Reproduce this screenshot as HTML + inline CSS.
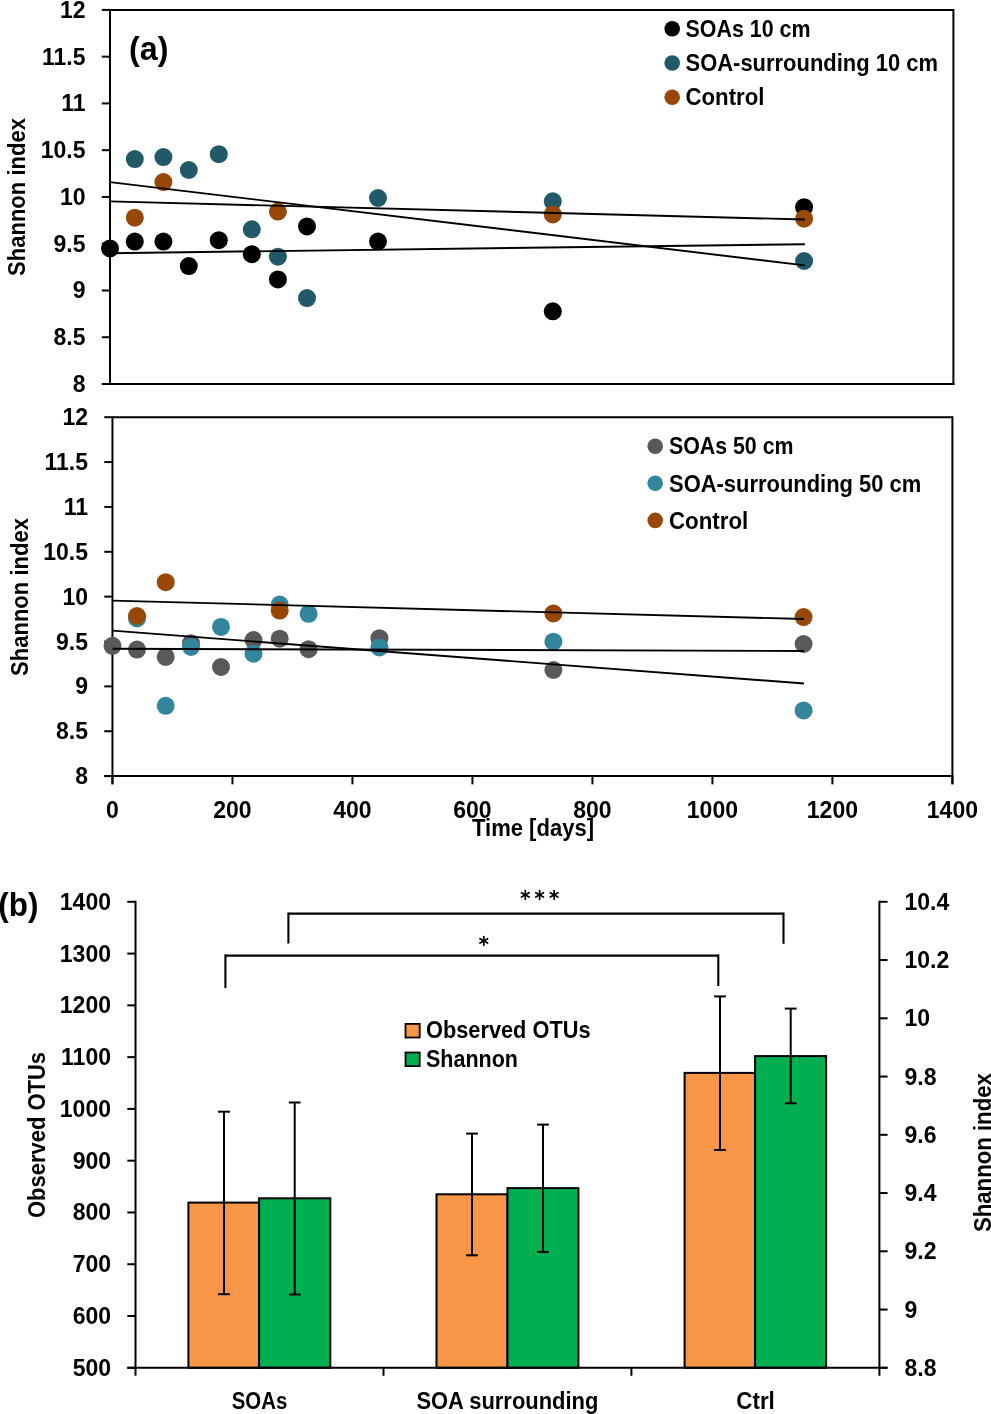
<!DOCTYPE html>
<html><head><meta charset="utf-8"><style>
html,body{margin:0;padding:0;background:#fff;}
svg{display:block;font-family:"Liberation Sans", sans-serif;will-change:transform;}
</style></head><body>
<svg width="991" height="1414" viewBox="0 0 991 1414">
<rect width="991" height="1414" fill="#fff"/>
<line x1="110.0" y1="9.9" x2="953.4" y2="9.9" stroke="#000" stroke-width="2" stroke-linecap="butt"/>
<line x1="953.4" y1="8.9" x2="953.4" y2="385.0" stroke="#000" stroke-width="2" stroke-linecap="butt"/>
<line x1="110.0" y1="8.9" x2="110.0" y2="385.0" stroke="#000" stroke-width="2" stroke-linecap="butt"/>
<line x1="101.8" y1="384.0" x2="954.4" y2="384.0" stroke="#000" stroke-width="2" stroke-linecap="butt"/>
<line x1="101.8" y1="9.9" x2="110.0" y2="9.9" stroke="#000" stroke-width="2" stroke-linecap="butt"/>
<text x="85.5" y="17.9" text-anchor="end" font-size="23" font-weight="bold">12</text>
<line x1="101.8" y1="56.6625" x2="110.0" y2="56.6625" stroke="#000" stroke-width="2" stroke-linecap="butt"/>
<text x="85.5" y="64.6625" text-anchor="end" font-size="23" font-weight="bold">11.5</text>
<line x1="101.8" y1="103.42500000000001" x2="110.0" y2="103.42500000000001" stroke="#000" stroke-width="2" stroke-linecap="butt"/>
<text x="85.5" y="111.42500000000001" text-anchor="end" font-size="23" font-weight="bold">11</text>
<line x1="101.8" y1="150.18750000000003" x2="110.0" y2="150.18750000000003" stroke="#000" stroke-width="2" stroke-linecap="butt"/>
<text x="85.5" y="158.18750000000003" text-anchor="end" font-size="23" font-weight="bold">10.5</text>
<line x1="101.8" y1="196.95000000000002" x2="110.0" y2="196.95000000000002" stroke="#000" stroke-width="2" stroke-linecap="butt"/>
<text x="85.5" y="204.95000000000002" text-anchor="end" font-size="23" font-weight="bold">10</text>
<line x1="101.8" y1="243.7125" x2="110.0" y2="243.7125" stroke="#000" stroke-width="2" stroke-linecap="butt"/>
<text x="85.5" y="251.7125" text-anchor="end" font-size="23" font-weight="bold">9.5</text>
<line x1="101.8" y1="290.475" x2="110.0" y2="290.475" stroke="#000" stroke-width="2" stroke-linecap="butt"/>
<text x="85.5" y="298.475" text-anchor="end" font-size="23" font-weight="bold">9</text>
<line x1="101.8" y1="337.2375" x2="110.0" y2="337.2375" stroke="#000" stroke-width="2" stroke-linecap="butt"/>
<text x="85.5" y="345.2375" text-anchor="end" font-size="23" font-weight="bold">8.5</text>
<line x1="101.8" y1="384.0" x2="110.0" y2="384.0" stroke="#000" stroke-width="2" stroke-linecap="butt"/>
<text x="85.5" y="392.0" text-anchor="end" font-size="23" font-weight="bold">8</text>
<text x="25.3" y="197.0" text-anchor="middle" font-size="23" font-weight="bold" textLength="158" lengthAdjust="spacingAndGlyphs" transform="rotate(-90 25.3 197.0)">Shannon index</text>
<text x="129.0" y="60.4" text-anchor="start" font-size="33.5" font-weight="bold" textLength="39.4" lengthAdjust="spacingAndGlyphs">(a)</text>
<circle cx="110" cy="248.4" r="9.0" fill="#000000"/>
<circle cx="134.8" cy="241.6" r="9.0" fill="#000000"/>
<circle cx="163.4" cy="241.6" r="9.0" fill="#000000"/>
<circle cx="188.8" cy="266.1" r="9.0" fill="#000000"/>
<circle cx="218.8" cy="240.2" r="9.0" fill="#000000"/>
<circle cx="251.8" cy="254.2" r="9.0" fill="#000000"/>
<circle cx="277.9" cy="279.4" r="9.0" fill="#000000"/>
<circle cx="307.0" cy="226.4" r="9.0" fill="#000000"/>
<circle cx="378.0" cy="241.5" r="9.0" fill="#000000"/>
<circle cx="552.8" cy="311.3" r="9.0" fill="#000000"/>
<circle cx="804.1" cy="207.2" r="9.0" fill="#000000"/>
<circle cx="134.8" cy="159.1" r="9.0" fill="#215968"/>
<circle cx="163.4" cy="157.1" r="9.0" fill="#215968"/>
<circle cx="188.8" cy="170.0" r="9.0" fill="#215968"/>
<circle cx="218.8" cy="154.2" r="9.0" fill="#215968"/>
<circle cx="251.8" cy="229.3" r="9.0" fill="#215968"/>
<circle cx="277.9" cy="256.7" r="9.0" fill="#215968"/>
<circle cx="307.0" cy="298.1" r="9.0" fill="#215968"/>
<circle cx="378.0" cy="198.0" r="9.0" fill="#215968"/>
<circle cx="552.8" cy="201.3" r="9.0" fill="#215968"/>
<circle cx="804.1" cy="261.0" r="9.0" fill="#215968"/>
<circle cx="134.8" cy="217.7" r="9.0" fill="#974806"/>
<circle cx="163.4" cy="182.1" r="9.0" fill="#974806"/>
<circle cx="277.9" cy="211.6" r="9.0" fill="#974806"/>
<circle cx="552.8" cy="214.4" r="9.0" fill="#974806"/>
<circle cx="804.1" cy="218.7" r="9.0" fill="#974806"/>
<line x1="110" y1="182.1" x2="804.9" y2="265.4" stroke="#000" stroke-width="1.9" stroke-linecap="butt"/>
<line x1="110" y1="201.4" x2="804.9" y2="219.5" stroke="#000" stroke-width="1.9" stroke-linecap="butt"/>
<line x1="110" y1="253.2" x2="804.9" y2="244.2" stroke="#000" stroke-width="1.9" stroke-linecap="butt"/>
<circle cx="672.2" cy="28.8" r="7.8" fill="#000000"/>
<text x="685.5" y="37.0" text-anchor="start" font-size="23" font-weight="bold" textLength="125" lengthAdjust="spacingAndGlyphs">SOAs 10 cm</text>
<circle cx="672.2" cy="63.0" r="7.8" fill="#215968"/>
<text x="685.5" y="71.2" text-anchor="start" font-size="23" font-weight="bold" textLength="252.5" lengthAdjust="spacingAndGlyphs">SOA-surrounding 10 cm</text>
<circle cx="672.2" cy="97.2" r="7.8" fill="#974806"/>
<text x="685.5" y="105.4" text-anchor="start" font-size="23" font-weight="bold" textLength="79" lengthAdjust="spacingAndGlyphs">Control</text>
<line x1="112.45" y1="417.2" x2="952.4" y2="417.2" stroke="#000" stroke-width="2" stroke-linecap="butt"/>
<line x1="952.4" y1="416.2" x2="952.4" y2="784.3000000000001" stroke="#000" stroke-width="2" stroke-linecap="butt"/>
<line x1="112.45" y1="416.2" x2="112.45" y2="784.3000000000001" stroke="#000" stroke-width="2" stroke-linecap="butt"/>
<line x1="104.25" y1="776.1" x2="953.4" y2="776.1" stroke="#000" stroke-width="2" stroke-linecap="butt"/>
<line x1="104.25" y1="417.2" x2="112.45" y2="417.2" stroke="#000" stroke-width="2" stroke-linecap="butt"/>
<text x="88.0" y="425.2" text-anchor="end" font-size="23" font-weight="bold">12</text>
<line x1="104.25" y1="462.0625" x2="112.45" y2="462.0625" stroke="#000" stroke-width="2" stroke-linecap="butt"/>
<text x="88.0" y="470.0625" text-anchor="end" font-size="23" font-weight="bold">11.5</text>
<line x1="104.25" y1="506.925" x2="112.45" y2="506.925" stroke="#000" stroke-width="2" stroke-linecap="butt"/>
<text x="88.0" y="514.925" text-anchor="end" font-size="23" font-weight="bold">11</text>
<line x1="104.25" y1="551.7875" x2="112.45" y2="551.7875" stroke="#000" stroke-width="2" stroke-linecap="butt"/>
<text x="88.0" y="559.7875" text-anchor="end" font-size="23" font-weight="bold">10.5</text>
<line x1="104.25" y1="596.65" x2="112.45" y2="596.65" stroke="#000" stroke-width="2" stroke-linecap="butt"/>
<text x="88.0" y="604.65" text-anchor="end" font-size="23" font-weight="bold">10</text>
<line x1="104.25" y1="641.5125" x2="112.45" y2="641.5125" stroke="#000" stroke-width="2" stroke-linecap="butt"/>
<text x="88.0" y="649.5125" text-anchor="end" font-size="23" font-weight="bold">9.5</text>
<line x1="104.25" y1="686.375" x2="112.45" y2="686.375" stroke="#000" stroke-width="2" stroke-linecap="butt"/>
<text x="88.0" y="694.375" text-anchor="end" font-size="23" font-weight="bold">9</text>
<line x1="104.25" y1="731.2375" x2="112.45" y2="731.2375" stroke="#000" stroke-width="2" stroke-linecap="butt"/>
<text x="88.0" y="739.2375" text-anchor="end" font-size="23" font-weight="bold">8.5</text>
<line x1="104.25" y1="776.1" x2="112.45" y2="776.1" stroke="#000" stroke-width="2" stroke-linecap="butt"/>
<text x="88.0" y="784.1" text-anchor="end" font-size="23" font-weight="bold">8</text>
<line x1="112.45" y1="776.1" x2="112.45" y2="784.3000000000001" stroke="#000" stroke-width="2" stroke-linecap="butt"/>
<text x="112.45" y="817.5" text-anchor="middle" font-size="23" font-weight="bold">0</text>
<line x1="232.44285714285715" y1="776.1" x2="232.44285714285715" y2="784.3000000000001" stroke="#000" stroke-width="2" stroke-linecap="butt"/>
<text x="232.44285714285715" y="817.5" text-anchor="middle" font-size="23" font-weight="bold">200</text>
<line x1="352.4357142857143" y1="776.1" x2="352.4357142857143" y2="784.3000000000001" stroke="#000" stroke-width="2" stroke-linecap="butt"/>
<text x="352.4357142857143" y="817.5" text-anchor="middle" font-size="23" font-weight="bold">400</text>
<line x1="472.4285714285714" y1="776.1" x2="472.4285714285714" y2="784.3000000000001" stroke="#000" stroke-width="2" stroke-linecap="butt"/>
<text x="472.4285714285714" y="817.5" text-anchor="middle" font-size="23" font-weight="bold">600</text>
<line x1="592.4214285714286" y1="776.1" x2="592.4214285714286" y2="784.3000000000001" stroke="#000" stroke-width="2" stroke-linecap="butt"/>
<text x="592.4214285714286" y="817.5" text-anchor="middle" font-size="23" font-weight="bold">800</text>
<line x1="712.4142857142857" y1="776.1" x2="712.4142857142857" y2="784.3000000000001" stroke="#000" stroke-width="2" stroke-linecap="butt"/>
<text x="712.4142857142857" y="817.5" text-anchor="middle" font-size="23" font-weight="bold">1000</text>
<line x1="832.4071428571428" y1="776.1" x2="832.4071428571428" y2="784.3000000000001" stroke="#000" stroke-width="2" stroke-linecap="butt"/>
<text x="832.4071428571428" y="817.5" text-anchor="middle" font-size="23" font-weight="bold">1200</text>
<line x1="952.4000000000001" y1="776.1" x2="952.4000000000001" y2="784.3000000000001" stroke="#000" stroke-width="2" stroke-linecap="butt"/>
<text x="952.4000000000001" y="817.5" text-anchor="middle" font-size="23" font-weight="bold">1400</text>
<text x="27.9" y="597.0" text-anchor="middle" font-size="23" font-weight="bold" textLength="158" lengthAdjust="spacingAndGlyphs" transform="rotate(-90 27.9 597.0)">Shannon index</text>
<text x="533" y="836.1" text-anchor="middle" font-size="23" font-weight="bold" textLength="122" lengthAdjust="spacingAndGlyphs">Time [days]</text>
<circle cx="112.5" cy="645.8" r="9.0" fill="#595959"/>
<circle cx="137.0" cy="649.6" r="9.0" fill="#595959"/>
<circle cx="165.7" cy="656.9" r="9.0" fill="#595959"/>
<circle cx="191.0" cy="643.2" r="9.0" fill="#595959"/>
<circle cx="221.0" cy="667.0" r="9.0" fill="#595959"/>
<circle cx="253.5" cy="640.0" r="9.0" fill="#595959"/>
<circle cx="279.7" cy="638.7" r="9.0" fill="#595959"/>
<circle cx="308.6" cy="649.2" r="9.0" fill="#595959"/>
<circle cx="379.4" cy="638.2" r="9.0" fill="#595959"/>
<circle cx="553.4" cy="670.0" r="9.0" fill="#595959"/>
<circle cx="803.6" cy="644.0" r="9.0" fill="#595959"/>
<circle cx="137.0" cy="618.5" r="9.0" fill="#31859C"/>
<circle cx="165.7" cy="705.8" r="9.0" fill="#31859C"/>
<circle cx="191.0" cy="647.0" r="9.0" fill="#31859C"/>
<circle cx="221.0" cy="626.9" r="9.0" fill="#31859C"/>
<circle cx="253.5" cy="653.7" r="9.0" fill="#31859C"/>
<circle cx="279.7" cy="604.6" r="9.0" fill="#31859C"/>
<circle cx="308.6" cy="613.8" r="9.0" fill="#31859C"/>
<circle cx="379.4" cy="647.4" r="9.0" fill="#31859C"/>
<circle cx="553.4" cy="641.7" r="9.0" fill="#31859C"/>
<circle cx="803.6" cy="710.4" r="9.0" fill="#31859C"/>
<circle cx="137.0" cy="616.0" r="9.0" fill="#974806"/>
<circle cx="165.7" cy="582.2" r="9.0" fill="#974806"/>
<circle cx="279.7" cy="610.6" r="9.0" fill="#974806"/>
<circle cx="553.4" cy="613.4" r="9.0" fill="#974806"/>
<circle cx="803.6" cy="617.1" r="9.0" fill="#974806"/>
<line x1="112.5" y1="600.6" x2="804" y2="619.0" stroke="#000" stroke-width="1.9" stroke-linecap="butt"/>
<line x1="112.5" y1="630.6" x2="804" y2="683.5" stroke="#000" stroke-width="1.9" stroke-linecap="butt"/>
<line x1="112.5" y1="648.8" x2="804" y2="651.0" stroke="#000" stroke-width="1.9" stroke-linecap="butt"/>
<circle cx="655.2" cy="446.2" r="7.8" fill="#595959"/>
<text x="669.0" y="454.4" text-anchor="start" font-size="23" font-weight="bold" textLength="124.5" lengthAdjust="spacingAndGlyphs">SOAs 50 cm</text>
<circle cx="655.2" cy="483.3" r="7.8" fill="#31859C"/>
<text x="669.0" y="491.5" text-anchor="start" font-size="23" font-weight="bold" textLength="252.3" lengthAdjust="spacingAndGlyphs">SOA-surrounding 50 cm</text>
<circle cx="655.2" cy="520.4" r="7.8" fill="#974806"/>
<text x="669.0" y="528.6" text-anchor="start" font-size="23" font-weight="bold" textLength="79.3" lengthAdjust="spacingAndGlyphs">Control</text>
<text x="-1.8" y="916.0" text-anchor="start" font-size="33.5" font-weight="bold" textLength="40.2" lengthAdjust="spacingAndGlyphs">(b)</text>
<line x1="288.4" y1="913.7" x2="783.5" y2="913.7" stroke="#000" stroke-width="2.2" stroke-linecap="butt"/>
<line x1="288.4" y1="912.6" x2="288.4" y2="943.5" stroke="#000" stroke-width="2.1" stroke-linecap="butt"/>
<line x1="783.5" y1="912.6" x2="783.5" y2="943.8" stroke="#000" stroke-width="2.1" stroke-linecap="butt"/>
<line x1="225.4" y1="955.6" x2="718.3" y2="955.6" stroke="#000" stroke-width="2.2" stroke-linecap="butt"/>
<line x1="225.4" y1="954.5" x2="225.4" y2="988.1" stroke="#000" stroke-width="2.1" stroke-linecap="butt"/>
<line x1="718.3" y1="954.5" x2="718.3" y2="986.0" stroke="#000" stroke-width="2.1" stroke-linecap="butt"/>
<rect x="188.4" y="1202.6" width="70.70000000000002" height="165.20000000000005" fill="#F79646" stroke="#000" stroke-width="2"/>
<rect x="259.1" y="1198.3" width="71.19999999999999" height="169.5" fill="#00B050" stroke="#000" stroke-width="2"/>
<rect x="436.5" y="1194.3" width="71.0" height="173.5" fill="#F79646" stroke="#000" stroke-width="2"/>
<rect x="507.5" y="1188.1" width="70.89999999999998" height="179.70000000000005" fill="#00B050" stroke="#000" stroke-width="2"/>
<rect x="684.6" y="1072.9" width="70.5" height="294.89999999999986" fill="#F79646" stroke="#000" stroke-width="2"/>
<rect x="755.1" y="1056.1" width="71.0" height="311.70000000000005" fill="#00B050" stroke="#000" stroke-width="2"/>
<line x1="224.0" y1="1111.7" x2="224.0" y2="1293.9" stroke="#000" stroke-width="2" stroke-linecap="butt"/>
<line x1="218.1" y1="1111.7" x2="229.9" y2="1111.7" stroke="#000" stroke-width="2" stroke-linecap="butt"/>
<line x1="218.1" y1="1294.2" x2="229.9" y2="1294.2" stroke="#000" stroke-width="2" stroke-linecap="butt"/>
<line x1="294.7" y1="1102.5" x2="294.7" y2="1294.2" stroke="#000" stroke-width="2" stroke-linecap="butt"/>
<line x1="288.8" y1="1102.5" x2="300.59999999999997" y2="1102.5" stroke="#000" stroke-width="2" stroke-linecap="butt"/>
<line x1="288.8" y1="1294.5" x2="300.59999999999997" y2="1294.5" stroke="#000" stroke-width="2" stroke-linecap="butt"/>
<line x1="472.0" y1="1133.6" x2="472.0" y2="1255.0" stroke="#000" stroke-width="2" stroke-linecap="butt"/>
<line x1="466.1" y1="1133.6" x2="477.9" y2="1133.6" stroke="#000" stroke-width="2" stroke-linecap="butt"/>
<line x1="466.1" y1="1255.3" x2="477.9" y2="1255.3" stroke="#000" stroke-width="2" stroke-linecap="butt"/>
<line x1="543.0" y1="1124.6" x2="543.0" y2="1251.6" stroke="#000" stroke-width="2" stroke-linecap="butt"/>
<line x1="537.1" y1="1124.6" x2="548.9" y2="1124.6" stroke="#000" stroke-width="2" stroke-linecap="butt"/>
<line x1="537.1" y1="1251.8999999999999" x2="548.9" y2="1251.8999999999999" stroke="#000" stroke-width="2" stroke-linecap="butt"/>
<line x1="720.0" y1="996.4" x2="720.0" y2="1149.7" stroke="#000" stroke-width="2" stroke-linecap="butt"/>
<line x1="714.1" y1="996.4" x2="725.9" y2="996.4" stroke="#000" stroke-width="2" stroke-linecap="butt"/>
<line x1="714.1" y1="1150.0" x2="725.9" y2="1150.0" stroke="#000" stroke-width="2" stroke-linecap="butt"/>
<line x1="790.7" y1="1008.6" x2="790.7" y2="1103.0" stroke="#000" stroke-width="2" stroke-linecap="butt"/>
<line x1="784.8000000000001" y1="1008.6" x2="796.6" y2="1008.6" stroke="#000" stroke-width="2" stroke-linecap="butt"/>
<line x1="784.8000000000001" y1="1103.3" x2="796.6" y2="1103.3" stroke="#000" stroke-width="2" stroke-linecap="butt"/>
<line x1="135.5" y1="900.8" x2="135.5" y2="1375.8" stroke="#000" stroke-width="2" stroke-linecap="butt"/>
<line x1="879.4" y1="900.8" x2="879.4" y2="1375.8" stroke="#000" stroke-width="2" stroke-linecap="butt"/>
<line x1="127.3" y1="1367.8" x2="887.6" y2="1367.8" stroke="#000" stroke-width="2" stroke-linecap="butt"/>
<line x1="127.3" y1="1367.8" x2="135.5" y2="1367.8" stroke="#000" stroke-width="2" stroke-linecap="butt"/>
<text x="111.0" y="1375.8" text-anchor="end" font-size="23" font-weight="bold">500</text>
<line x1="127.3" y1="1316.0222222222221" x2="135.5" y2="1316.0222222222221" stroke="#000" stroke-width="2" stroke-linecap="butt"/>
<text x="111.0" y="1324.0222222222221" text-anchor="end" font-size="23" font-weight="bold">600</text>
<line x1="127.3" y1="1264.2444444444443" x2="135.5" y2="1264.2444444444443" stroke="#000" stroke-width="2" stroke-linecap="butt"/>
<text x="111.0" y="1272.2444444444443" text-anchor="end" font-size="23" font-weight="bold">700</text>
<line x1="127.3" y1="1212.4666666666667" x2="135.5" y2="1212.4666666666667" stroke="#000" stroke-width="2" stroke-linecap="butt"/>
<text x="111.0" y="1220.4666666666667" text-anchor="end" font-size="23" font-weight="bold">800</text>
<line x1="127.3" y1="1160.6888888888889" x2="135.5" y2="1160.6888888888889" stroke="#000" stroke-width="2" stroke-linecap="butt"/>
<text x="111.0" y="1168.6888888888889" text-anchor="end" font-size="23" font-weight="bold">900</text>
<line x1="127.3" y1="1108.911111111111" x2="135.5" y2="1108.911111111111" stroke="#000" stroke-width="2" stroke-linecap="butt"/>
<text x="111.0" y="1116.911111111111" text-anchor="end" font-size="23" font-weight="bold">1000</text>
<line x1="127.3" y1="1057.1333333333332" x2="135.5" y2="1057.1333333333332" stroke="#000" stroke-width="2" stroke-linecap="butt"/>
<text x="111.0" y="1065.1333333333332" text-anchor="end" font-size="23" font-weight="bold">1100</text>
<line x1="127.3" y1="1005.3555555555555" x2="135.5" y2="1005.3555555555555" stroke="#000" stroke-width="2" stroke-linecap="butt"/>
<text x="111.0" y="1013.3555555555555" text-anchor="end" font-size="23" font-weight="bold">1200</text>
<line x1="127.3" y1="953.5777777777778" x2="135.5" y2="953.5777777777778" stroke="#000" stroke-width="2" stroke-linecap="butt"/>
<text x="111.0" y="961.5777777777778" text-anchor="end" font-size="23" font-weight="bold">1300</text>
<line x1="127.3" y1="901.8" x2="135.5" y2="901.8" stroke="#000" stroke-width="2" stroke-linecap="butt"/>
<text x="111.0" y="909.8" text-anchor="end" font-size="23" font-weight="bold">1400</text>
<line x1="879.4" y1="1367.8" x2="887.6" y2="1367.8" stroke="#000" stroke-width="2" stroke-linecap="butt"/>
<text x="904.5" y="1375.8" text-anchor="start" font-size="23" font-weight="bold">8.8</text>
<line x1="879.4" y1="1309.5500000000002" x2="887.6" y2="1309.5500000000002" stroke="#000" stroke-width="2" stroke-linecap="butt"/>
<text x="904.5" y="1317.5500000000002" text-anchor="start" font-size="23" font-weight="bold">9</text>
<line x1="879.4" y1="1251.3" x2="887.6" y2="1251.3" stroke="#000" stroke-width="2" stroke-linecap="butt"/>
<text x="904.5" y="1259.3" text-anchor="start" font-size="23" font-weight="bold">9.2</text>
<line x1="879.4" y1="1193.0500000000002" x2="887.6" y2="1193.0500000000002" stroke="#000" stroke-width="2" stroke-linecap="butt"/>
<text x="904.5" y="1201.0500000000002" text-anchor="start" font-size="23" font-weight="bold">9.4</text>
<line x1="879.4" y1="1134.7999999999997" x2="887.6" y2="1134.7999999999997" stroke="#000" stroke-width="2" stroke-linecap="butt"/>
<text x="904.5" y="1142.7999999999997" text-anchor="start" font-size="23" font-weight="bold">9.6</text>
<line x1="879.4" y1="1076.55" x2="887.6" y2="1076.55" stroke="#000" stroke-width="2" stroke-linecap="butt"/>
<text x="904.5" y="1084.55" text-anchor="start" font-size="23" font-weight="bold">9.8</text>
<line x1="879.4" y1="1018.3000000000002" x2="887.6" y2="1018.3000000000002" stroke="#000" stroke-width="2" stroke-linecap="butt"/>
<text x="904.5" y="1026.3000000000002" text-anchor="start" font-size="23" font-weight="bold">10</text>
<line x1="879.4" y1="960.0499999999998" x2="887.6" y2="960.0499999999998" stroke="#000" stroke-width="2" stroke-linecap="butt"/>
<text x="904.5" y="968.0499999999998" text-anchor="start" font-size="23" font-weight="bold">10.2</text>
<line x1="879.4" y1="901.8000000000002" x2="887.6" y2="901.8000000000002" stroke="#000" stroke-width="2" stroke-linecap="butt"/>
<text x="904.5" y="909.8000000000002" text-anchor="start" font-size="23" font-weight="bold">10.4</text>
<line x1="383.5" y1="1367.8" x2="383.5" y2="1375.8" stroke="#000" stroke-width="2" stroke-linecap="butt"/>
<line x1="631.4" y1="1367.8" x2="631.4" y2="1375.8" stroke="#000" stroke-width="2" stroke-linecap="butt"/>
<text x="259.5" y="1409.1" text-anchor="middle" font-size="23" font-weight="bold" textLength="55.5" lengthAdjust="spacingAndGlyphs">SOAs</text>
<text x="507.4" y="1409.1" text-anchor="middle" font-size="23" font-weight="bold" textLength="182" lengthAdjust="spacingAndGlyphs">SOA surrounding</text>
<text x="755.6" y="1409.1" text-anchor="middle" font-size="23" font-weight="bold" textLength="38.5" lengthAdjust="spacingAndGlyphs">Ctrl</text>
<text x="44.5" y="1135.0" text-anchor="middle" font-size="23" font-weight="bold" textLength="166" lengthAdjust="spacingAndGlyphs" transform="rotate(-90 44.5 1135.0)">Observed OTUs</text>
<text x="990.7" y="1152.6" text-anchor="middle" font-size="23" font-weight="bold" textLength="159" lengthAdjust="spacingAndGlyphs" transform="rotate(-90 990.7 1152.6)">Shannon index</text>
<rect x="405.5" y="1023.9" width="14.2" height="13.6" fill="#F79646" stroke="#000" stroke-width="1.8"/>
<rect x="405.5" y="1052.5" width="14.2" height="13.6" fill="#00B050" stroke="#000" stroke-width="1.8"/>
<text x="426.0" y="1037.8" text-anchor="start" font-size="23" font-weight="bold" textLength="164.5" lengthAdjust="spacingAndGlyphs">Observed OTUs</text>
<text x="426.0" y="1066.5" text-anchor="start" font-size="23" font-weight="bold" textLength="92" lengthAdjust="spacingAndGlyphs">Shannon</text>
<line x1="525.3" y1="890.5" x2="525.3" y2="899.3" stroke="#000" stroke-width="1.7" stroke-linecap="round"/>
<line x1="521.49" y1="892.7" x2="529.11" y2="897.1" stroke="#000" stroke-width="1.7" stroke-linecap="round"/>
<line x1="529.11" y1="892.7" x2="521.49" y2="897.1" stroke="#000" stroke-width="1.7" stroke-linecap="round"/>
<line x1="539.6" y1="890.5" x2="539.6" y2="899.3" stroke="#000" stroke-width="1.7" stroke-linecap="round"/>
<line x1="535.79" y1="892.7" x2="543.41" y2="897.1" stroke="#000" stroke-width="1.7" stroke-linecap="round"/>
<line x1="543.41" y1="892.7" x2="535.79" y2="897.1" stroke="#000" stroke-width="1.7" stroke-linecap="round"/>
<line x1="554.1" y1="890.5" x2="554.1" y2="899.3" stroke="#000" stroke-width="1.7" stroke-linecap="round"/>
<line x1="550.29" y1="892.7" x2="557.91" y2="897.1" stroke="#000" stroke-width="1.7" stroke-linecap="round"/>
<line x1="557.91" y1="892.7" x2="550.29" y2="897.1" stroke="#000" stroke-width="1.7" stroke-linecap="round"/>
<line x1="483.8" y1="936.5" x2="483.8" y2="945.3" stroke="#000" stroke-width="1.7" stroke-linecap="round"/>
<line x1="479.99" y1="938.7" x2="487.61" y2="943.1" stroke="#000" stroke-width="1.7" stroke-linecap="round"/>
<line x1="487.61" y1="938.7" x2="479.99" y2="943.1" stroke="#000" stroke-width="1.7" stroke-linecap="round"/>
</svg></body></html>
